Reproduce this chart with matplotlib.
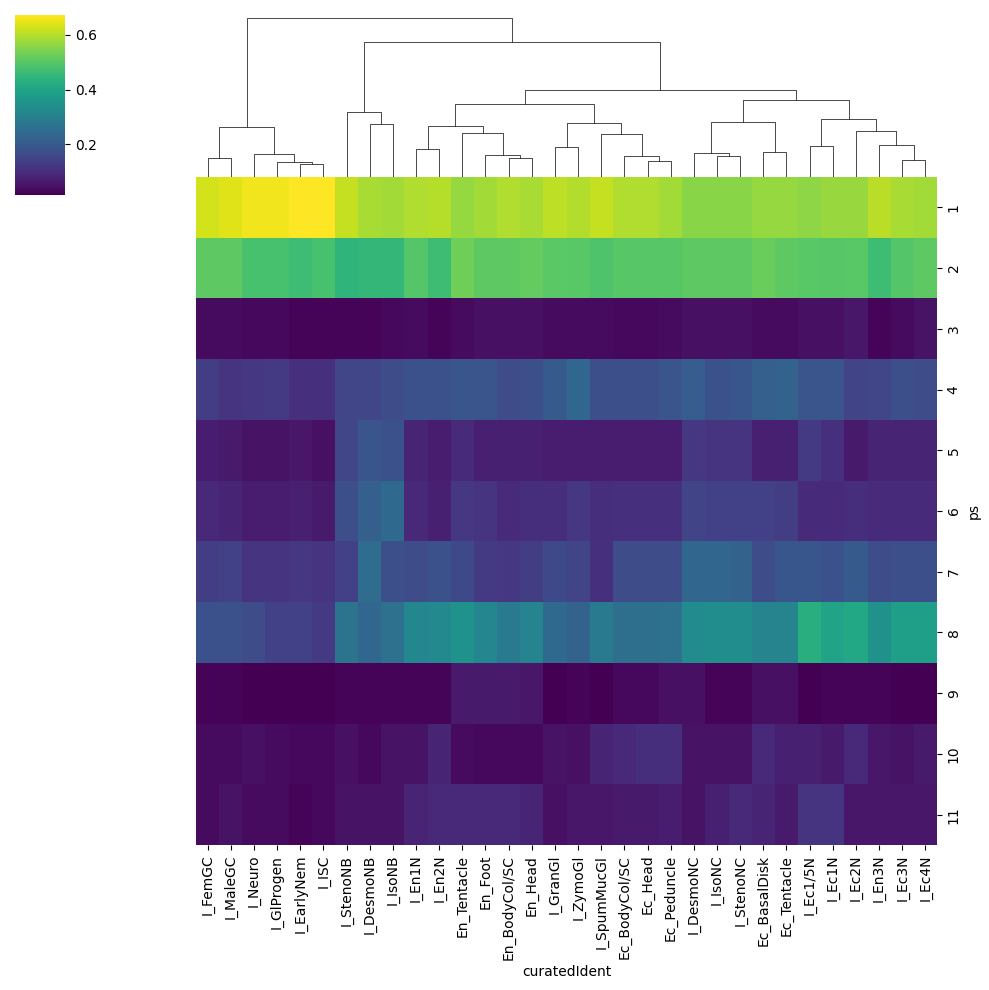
import numpy as np
import matplotlib
matplotlib.use("Agg")
import matplotlib.pyplot as plt
from matplotlib.collections import LineCollection

# ---- data -------------------------------------------------------------
columns = ["I_FemGC", "I_MaleGC", "I_Neuro", "I_GlProgen", "I_EarlyNem", "I_ISC",
           "I_StenoNB", "I_DesmoNB", "I_IsoNB", "I_En1N", "I_En2N", "En_Tentacle",
           "En_Foot", "En_BodyCol/SC", "En_Head", "I_GranGl", "I_ZymoGl", "I_SpumMucGl",
           "Ec_BodyCol/SC", "Ec_Head", "Ec_Peduncle", "I_DesmoNC", "I_IsoNC", "I_StenoNC",
           "Ec_BasalDisk", "Ec_Tentacle", "I_Ec1/5N", "I_Ec1N", "I_Ec2N", "I_En3N",
           "I_Ec3N", "I_Ec4N"]
ps_labels = ["1", "2", "3", "4", "5", "6", "7", "8", "9", "10", "11"]

ps1 = [0.627, 0.640, 0.660, 0.660, 0.673, 0.673, 0.614, 0.588, 0.581, 0.594, 0.601, 0.568,
       0.581, 0.594, 0.588, 0.607, 0.597, 0.614, 0.594, 0.594, 0.581, 0.555, 0.555, 0.555,
       0.568, 0.568, 0.561, 0.571, 0.571, 0.604, 0.588, 0.581]
ps2 = [0.509, 0.509, 0.482, 0.482, 0.469, 0.482, 0.443, 0.450, 0.450, 0.496, 0.469, 0.528,
       0.509, 0.509, 0.515, 0.505, 0.502, 0.489, 0.499, 0.499, 0.499, 0.509, 0.509, 0.509,
       0.522, 0.509, 0.502, 0.499, 0.502, 0.469, 0.496, 0.509]
ps3 = [0.036, 0.036, 0.029, 0.029, 0.023, 0.023, 0.023, 0.023, 0.029, 0.036, 0.023, 0.036,
       0.042, 0.042, 0.042, 0.036, 0.036, 0.036, 0.029, 0.029, 0.036, 0.042, 0.042, 0.042,
       0.036, 0.036, 0.042, 0.042, 0.055, 0.023, 0.036, 0.049]
ps4 = [0.134, 0.115, 0.121, 0.128, 0.108, 0.108, 0.154, 0.154, 0.167, 0.180, 0.180, 0.187,
       0.187, 0.167, 0.174, 0.200, 0.233, 0.174, 0.174, 0.174, 0.187, 0.207, 0.180, 0.193,
       0.213, 0.220, 0.187, 0.187, 0.147, 0.154, 0.174, 0.167]
ps5 = [0.069, 0.062, 0.049, 0.049, 0.055, 0.042, 0.154, 0.187, 0.180, 0.082, 0.069, 0.095,
       0.075, 0.075, 0.075, 0.069, 0.069, 0.069, 0.069, 0.069, 0.069, 0.121, 0.115, 0.115,
       0.075, 0.075, 0.128, 0.108, 0.062, 0.082, 0.082, 0.082]
ps6 = [0.088, 0.082, 0.069, 0.069, 0.075, 0.062, 0.174, 0.213, 0.239, 0.088, 0.075, 0.121,
       0.115, 0.095, 0.101, 0.101, 0.121, 0.101, 0.108, 0.108, 0.108, 0.147, 0.141, 0.141,
       0.141, 0.134, 0.095, 0.095, 0.101, 0.095, 0.095, 0.095]
ps7 = [0.134, 0.141, 0.115, 0.115, 0.121, 0.115, 0.141, 0.246, 0.174, 0.167, 0.180, 0.161,
       0.128, 0.121, 0.134, 0.161, 0.147, 0.108, 0.167, 0.167, 0.167, 0.233, 0.233, 0.220,
       0.167, 0.193, 0.193, 0.180, 0.200, 0.167, 0.174, 0.174]
ps8 = [0.180, 0.180, 0.167, 0.141, 0.141, 0.128, 0.266, 0.233, 0.259, 0.318, 0.325, 0.351,
       0.318, 0.285, 0.312, 0.239, 0.220, 0.285, 0.253, 0.253, 0.259, 0.331, 0.338, 0.338,
       0.312, 0.312, 0.430, 0.397, 0.410, 0.345, 0.384, 0.384]
ps9 = [0.023, 0.023, 0.016, 0.016, 0.016, 0.016, 0.023, 0.023, 0.023, 0.023, 0.023, 0.062,
       0.062, 0.062, 0.055, 0.016, 0.023, 0.016, 0.029, 0.029, 0.042, 0.042, 0.023, 0.023,
       0.042, 0.042, 0.016, 0.023, 0.023, 0.023, 0.016, 0.016]
ps10 = [0.036, 0.036, 0.042, 0.036, 0.029, 0.029, 0.042, 0.029, 0.049, 0.049, 0.082, 0.036,
        0.029, 0.029, 0.029, 0.049, 0.042, 0.082, 0.088, 0.101, 0.101, 0.049, 0.049, 0.049,
        0.088, 0.075, 0.075, 0.062, 0.088, 0.055, 0.049, 0.062]
ps11 = [0.036, 0.049, 0.036, 0.036, 0.023, 0.029, 0.049, 0.049, 0.049, 0.082, 0.088, 0.088,
        0.088, 0.088, 0.082, 0.042, 0.055, 0.055, 0.062, 0.062, 0.069, 0.049, 0.075, 0.088,
        0.082, 0.062, 0.115, 0.115, 0.055, 0.055, 0.055, 0.055]

# column dendrogram: (child_a, child_b, height); ids < 32 are leaves,
# id 32 + k refers to merge k
merges = [
    (0, 1, 18.7), (4, 5, 12.7), (3, 33, 14.7), (2, 34, 22.7), (32, 35, 49.7),
    (7, 8, 52.7), (6, 37, 64.7), (9, 10, 27.7), (13, 14, 18.7), (12, 40, 21.7),
    (11, 41, 43.7), (39, 42, 50.7), (15, 16, 29.7), (19, 20, 15.7), (18, 45, 20.7),
    (17, 46, 42.7), (44, 47, 53.7), (43, 48, 72.7), (22, 23, 20.7), (21, 50, 23.7),
    (24, 25, 24.7), (51, 52, 54.7), (26, 27, 30.7), (30, 31, 16.7), (29, 55, 31.7),
    (28, 56, 45.7), (54, 57, 57.7), (53, 58, 76.7), (49, 59, 86.7), (38, 60, 134.7),
    (36, 61, 158.7),
]

# ---- figure -----------------------------------------------------------
W, H = 989, 990
fig = plt.figure(figsize=(W / 100, H / 100), dpi=100)

def px_axes(x0, y0, x1, y1):
    return fig.add_axes([x0 / W, (H - y1) / H, (x1 - x0) / W, (y1 - y0) / H])

data = np.array([ps1, ps2, ps3, ps4, ps5, ps6, ps7, ps8, ps9, ps10, ps11])
nrow, ncol = data.shape
vmin, vmax = data.min(), data.max()

ax = px_axes(196, 177, 937, 845)
mesh = ax.pcolormesh(data, cmap="viridis", vmin=vmin, vmax=vmax)
ax.set_xlim(0, ncol)
ax.set_ylim(nrow, 0)
for s in ax.spines.values():
    s.set_visible(False)
ax.set_xticks(np.arange(ncol) + 0.5)
ax.set_xticklabels(columns, rotation=90, fontsize=10)
ax.set_yticks(np.arange(nrow) + 0.5)
ax.yaxis.set_ticks_position("right")
ax.yaxis.set_label_position("right")
ax.set_yticklabels(ps_labels, rotation=90, va="center", fontsize=10)
ax.set_xlabel("curatedIdent", fontsize=10)
ax.set_ylabel("ps", fontsize=10)

# dendrogram
dax = px_axes(196, 10.4, 937, 177)
n = ncol
pos = {i: (i + 0.5, 0.0) for i in range(n)}
segs = []
for k, (a, b, h) in enumerate(merges):
    xa, ha = pos[a]
    xb, hb = pos[b]
    segs.append([(xa, ha), (xa, h), (xb, h), (xb, hb)])
    pos[n + k] = ((xa + xb) / 2, h)
lc = LineCollection(segs, linewidths=0.5, colors="k")
dax.add_collection(lc)
maxh = max(m[2] for m in merges)
dax.set_xlim(0, n)
dax.set_ylim(0, maxh * 1.05)
dax.set_xticks([])
dax.set_yticks([])
for s in dax.spines.values():
    s.set_visible(False)
dax.patch.set_alpha(0)

# colorbar
cax = px_axes(15, 15, 65, 194.7)
cb = fig.colorbar(mesh, cax=cax)
cb.set_ticks([0.2, 0.4, 0.6])
cb.ax.tick_params(labelsize=10)
cb.outline.set_linewidth(0)

fig.savefig("out.png", dpi=100)
